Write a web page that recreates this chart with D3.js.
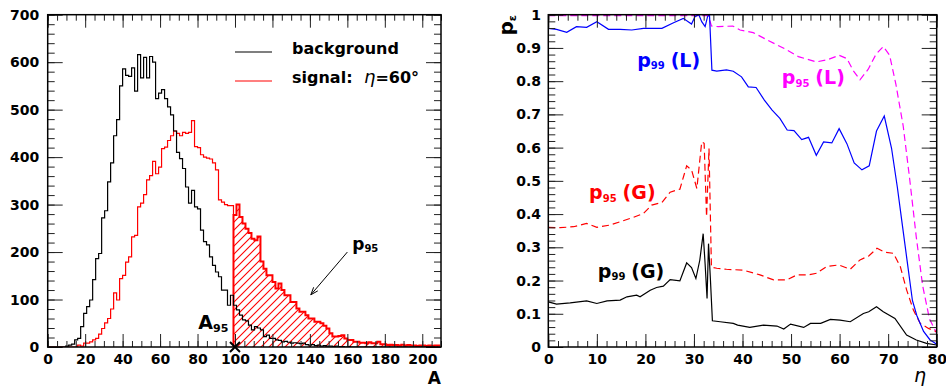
<!DOCTYPE html>
<html><head><meta charset="utf-8">
<script src="https://cdn.jsdelivr.net/npm/d3@7"></script>
<style>body{margin:0;background:#fff}svg{display:block}</style>
</head><body><svg id="c" width="946" height="388"></svg>
<script>
// ---------- DATA ----------
const binWidth = 1.6;           // A units per histogram bin
const backgroundCounts = [0,0,0,0,0,0,2,4,6,15,18,43,71,85,99,142,186,197,272,287,348,388,445,479,550,586,572,570,588,539,616,567,610,567,612,600,523,535,542,523,506,489,455,410,397,376,337,303,330,295,291,246,222,215,190,172,158,148,120,120,88,109,88,78,67,57,55,46,36,43,40,36,22,25,18,18,15,14,11,12,10,8,9,8,7,8,5,4,5,3,4,2,3,2,2,1,2,1,1,0,1,0,0,0,0,0,0,0,0,0,0,0,0,0,0,0,0,0,0,0,0,0,0,0,0,0,0,0,0,0,0];
const signalCounts = [0,0,0,0,0,0,0,0,0,0,4,2,8,8,11,15,18,27,39,51,60,80,114,99,144,151,179,190,232,235,295,303,321,352,361,391,365,379,418,421,435,445,455,450,445,452,450,452,477,422,420,405,400,398,396,388,373,310,305,300,298,298,278,300,274,260,249,240,228,225,233,180,165,151,151,137,123,134,120,109,109,95,95,81,74,74,67,60,60,53,53,50,45,39,29,22,22,23,25,18,15,15,11,11,9,9,8,10,8,8,11,6,6,4,5,4,4,3,5,3,4,3,3,2,3,3,2,3,2,3,3];
const cutBin = 62;              // first hatched bin (A95)
const a95 = 100;

const p99L_eta = [0,1.7,3.8,5.8,7.9,10,12.4,14.8,17.2,19.6,23.4,25.8,27.8,29.5,30.2,31.0,31.6,32.3,32.8,33.2,33.7,34.7,36.7,38.1,39.8,41.2,42.8,44.5,46.1,47.7,49.2,50.6,52.2,53.6,55.2,56.7,58.4,59.9,61.5,63.0,64.6,66.1,67.6,69.2,70.7,71.9,72.9,73.9,75.0,75.9,77.3,78.6,80];
const p99L_val = [0.959,0.956,0.947,0.964,0.962,0.979,0.956,0.956,0.954,0.959,0.959,0.976,0.989,0.972,0.994,1.0,0.979,0.964,0.994,1.0,0.833,0.830,0.834,0.830,0.813,0.783,0.781,0.743,0.713,0.688,0.653,0.651,0.624,0.631,0.577,0.617,0.614,0.657,0.612,0.554,0.533,0.545,0.650,0.695,0.598,0.48,0.37,0.26,0.14,0.095,0.047,0.022,0.008];

const p95L_eta = [0,33.0,33.6,35,38,39.5,42.2,45.5,48.5,51.5,55.2,57.4,59.9,61.5,62.8,64.2,65.9,67.5,69.0,70.3,71.6,73.1,74.4,75.8,77.1,78.5,80];
const p95L_val = [0.997,0.997,0.966,0.964,0.966,0.954,0.946,0.921,0.899,0.874,0.858,0.864,0.878,0.868,0.832,0.804,0.836,0.881,0.904,0.878,0.79,0.665,0.51,0.33,0.185,0.085,0.041];

const p95G_eta = [0,2.4,5.2,7.9,10.0,12.7,14.8,17.5,19.6,21.3,23.4,25.1,27.1,28.5,29.5,30.6,31.6,32.1,32.6,33.1,33.6,34.7,36.7,40.2,43.6,46.4,49.1,51.2,53.6,55.3,57.3,59.8,62.2,64.2,66.0,67.7,69.4,71.1,72.5,73.8,75.2,76.6,78.3,80];
const p95G_val = [0.360,0.359,0.362,0.372,0.360,0.367,0.377,0.390,0.402,0.427,0.435,0.466,0.475,0.545,0.533,0.477,0.617,0.613,0.392,0.597,0.240,0.237,0.234,0.231,0.217,0.202,0.202,0.217,0.217,0.222,0.242,0.247,0.234,0.262,0.274,0.297,0.285,0.282,0.242,0.172,0.111,0.071,0.056,0.046];

const p99G_eta = [0,1.7,4.5,7.9,10.0,12.1,14.8,16.2,18.2,18.9,21.0,22.3,23.7,25.1,27.1,28.5,29.5,30.4,31.2,31.9,32.3,32.7,33.0,33.4,33.8,35.4,38.1,39.0,41.5,44.3,47.1,48.5,49.9,52.6,54.0,56.1,58.1,60.1,62.2,64.9,66.0,67.6,69.0,71.4,73.8,75.8,77.9,80];
const p99G_val = [0.136,0.129,0.133,0.139,0.131,0.139,0.141,0.151,0.156,0.151,0.171,0.179,0.183,0.203,0.199,0.253,0.239,0.206,0.261,0.341,0.25,0.146,0.311,0.201,0.079,0.076,0.071,0.066,0.059,0.066,0.063,0.054,0.069,0.059,0.071,0.071,0.083,0.081,0.076,0.101,0.106,0.121,0.106,0.086,0.036,0.021,0.011,0.006];

const leftXMajor = [0,20,40,60,80,100,120,140,160,180,200];
const leftYMajor = [0,100,200,300,400,500,600,700];
const rightXMajor = [0,10,20,30,40,50,60,70,80];
const rightYMajor = [0,0.1,0.2,0.3,0.4,0.5,0.6,0.7,0.8,0.9,1];
const legendLabels = ["background", "signal:"];

// ---------- DRAW ----------
const svg = d3.select("#c");
const FONT = "DejaVu Sans, Verdana, sans-serif";
const L = {x0: 47.7, x1: 441, y0: 14.7, y1: 347};
const R = {x0: 548.3, x1: 936.7, y0: 14.7, y1: 347};

const xL = d3.scaleLinear().domain([0,210]).range([L.x0, L.x1]);
const yL = d3.scaleLinear().domain([0,700]).range([L.y1, L.y0]);
const xR = d3.scaleLinear().domain([0,80]).range([R.x0, R.x1]);
const yR = d3.scaleLinear().domain([0,1]).range([R.y1, R.y0]);

const defs = svg.append("defs");
const pat = defs.append("pattern").attr("id","hatch").attr("patternUnits","userSpaceOnUse")
  .attr("width",8).attr("height",8);
pat.append("path").attr("d","M-1,1 L1,-1 M0,8 L8,0 M7,9 L9,7").attr("fill","none").attr("stroke","#ff0000").attr("stroke-width",1.1);
defs.append("clipPath").attr("id","clipL").append("rect").attr("x",L.x0).attr("y",L.y0).attr("width",L.x1-L.x0).attr("height",L.y1-L.y0);
defs.append("clipPath").attr("id","clipR").append("rect").attr("x",R.x0).attr("y",R.y0-1).attr("width",R.x1-R.x0).attr("height",R.y1-R.y0+1);

function styleAxis(g){
  g.select(".domain").remove();
  g.selectAll(".tick line").attr("stroke","#222").attr("stroke-width",1);
  g.attr("font-family",FONT).attr("font-size",14).attr("font-weight","bold");
  g.selectAll("text").attr("fill","#000");
}
function frame(P, x, y, xMaj, xMin, yMaj, yMin, fmtX, fmtY, xMajLen, xMinLen, yMajLen, yMinLen, yPad){
  const g = svg.append("g");
  g.append("g").attr("transform",`translate(0,${P.y1})`).call(d3.axisBottom(x).tickValues(xMin).tickSize(-xMinLen).tickFormat("")).call(styleAxis);
  g.append("g").attr("transform",`translate(0,${P.y1})`).call(d3.axisBottom(x).tickValues(xMaj).tickSize(-xMajLen).tickPadding(7).tickFormat(fmtX)).call(styleAxis);
  g.append("g").attr("transform",`translate(0,${P.y0})`).call(d3.axisTop(x).tickValues(xMin).tickSize(-xMinLen).tickFormat("")).call(styleAxis);
  g.append("g").attr("transform",`translate(0,${P.y0})`).call(d3.axisTop(x).tickValues(xMaj).tickSize(-xMajLen).tickFormat("")).call(styleAxis);
  g.append("g").attr("transform",`translate(${P.x0},0)`).call(d3.axisLeft(y).tickValues(yMin).tickSize(-yMinLen).tickFormat("")).call(styleAxis);
  g.append("g").attr("transform",`translate(${P.x0},0)`).call(d3.axisLeft(y).tickValues(yMaj).tickSize(-yMajLen).tickPadding(yPad).tickFormat(fmtY)).call(styleAxis);
  g.append("g").attr("transform",`translate(${P.x1},0)`).call(d3.axisRight(y).tickValues(yMin).tickSize(-yMinLen).tickFormat("")).call(styleAxis);
  g.append("g").attr("transform",`translate(${P.x1},0)`).call(d3.axisRight(y).tickValues(yMaj).tickSize(-yMajLen).tickFormat("")).call(styleAxis);
  svg.append("rect").attr("x",P.x0).attr("y",P.y0).attr("width",P.x1-P.x0).attr("height",P.y1-P.y0)
    .attr("fill","none").attr("stroke","#000").attr("stroke-width",1.5);
}

// ----- left panel: histograms -----
const gL = svg.append("g").attr("clip-path","url(#clipL)");
function histPoints(counts, start){
  const pts = counts.slice(start).map((v,i)=>[(start+i)*binWidth, v]);
  pts.push([counts.length*binWidth, counts[counts.length-1]]);
  return pts;
}
const stepLine = d3.line().x(d=>xL(d[0])).y(d=>yL(d[1])).curve(d3.curveStepAfter);
const stepArea = d3.area().x(d=>xL(d[0])).y0(yL(0)).y1(d=>yL(d[1])).curve(d3.curveStepAfter);

const hatchPts = histPoints(signalCounts, cutBin);
gL.append("path").attr("d", stepArea(hatchPts)).attr("fill","url(#hatch)");
gL.append("path").attr("d", stepLine(histPoints(signalCounts.slice(0, cutBin+1), 0).slice(0, cutBin+1)))
  .attr("fill","none").attr("stroke","#ff0000").attr("stroke-width",1.2);
gL.append("path").attr("d", stepLine([[cutBin*binWidth,0], ...hatchPts]))
  .attr("fill","none").attr("stroke","#ff0000").attr("stroke-width",2);
gL.append("path").attr("d", stepLine(histPoints(backgroundCounts, 0)))
  .attr("fill","none").attr("stroke","#000").attr("stroke-width",1.2);

frame(L, xL, yL, leftXMajor, d3.range(0,211,5), leftYMajor, d3.range(0,701,20),
  d=>d3.format("d")(d), d=>d3.format("d")(d), 13, 6, 15, 7, 8.5);

// legend
const leg = svg.append("g").attr("font-family",FONT).attr("font-weight","bold").attr("font-size",16);
leg.append("line").attr("x1",235).attr("x2",272).attr("y1",52).attr("y2",52).attr("stroke","#000").attr("stroke-width",1.2);
leg.append("line").attr("x1",235).attr("x2",272).attr("y1",81).attr("y2",81).attr("stroke","#ff0000").attr("stroke-width",1.2);
leg.append("text").attr("x",292).attr("y",54).text(legendLabels[0]);
const t2 = leg.append("text").attr("x",292).attr("y",83);
t2.append("tspan").text(legendLabels[1]);
t2.append("tspan").attr("x",364).attr("font-style","italic").attr("font-weight","normal").attr("font-size",18).text("η");
t2.append("tspan").text("=60°");

// annotations
const ann = svg.append("g").attr("font-family",FONT).attr("font-weight","bold");
const xm = xL(a95), ym = yL(0);
ann.append("path").attr("d",`M${xm-5},${ym-5}L${xm+5},${ym+5}M${xm-5},${ym+5}L${xm+5},${ym-5}`).attr("stroke","#000").attr("stroke-width",2);
const ta = ann.append("text").attr("x",xL(80.4)).attr("y",yL(37)).attr("font-size",19);
ta.append("tspan").text("A");
ta.append("tspan").attr("font-size",11).attr("dy",3).text("95");
const tp = ann.append("text").attr("x",xL(162.6)).attr("y",yL(205)).attr("font-size",17);
tp.append("tspan").text("p");
tp.append("tspan").attr("font-size",10).attr("dy",2.5).text("95");
// arrow
const ax0 = xL(160), ay0 = yL(200), ax1 = xL(140.5), ay1 = yL(110);
const ang = Math.atan2(ay1-ay0, ax1-ax0);
const hl = 8, ha = 0.35;
ann.append("path").attr("d",`M${ax0},${ay0}L${ax1},${ay1}M${ax1-hl*Math.cos(ang-ha)},${ay1-hl*Math.sin(ang-ha)}L${ax1},${ay1}L${ax1-hl*Math.cos(ang+ha)},${ay1-hl*Math.sin(ang+ha)}`)
  .attr("fill","none").attr("stroke","#000").attr("stroke-width",1);
ann.append("text").attr("x",L.x1).attr("y",384).attr("text-anchor","end").attr("font-size",17).text("A");

// ----- right panel -----
const gR = svg.append("g").attr("clip-path","url(#clipR)");
const curve = (etas, vals) => d3.line().x((d,i)=>xR(etas[i])).y(d=>yR(d))(vals);
gR.append("path").attr("d",curve(p95L_eta,p95L_val)).attr("fill","none").attr("stroke","#ff00ff").attr("stroke-width",1.2).attr("stroke-dasharray","7,4");
gR.append("path").attr("d",curve(p95G_eta,p95G_val)).attr("fill","none").attr("stroke","#ff0000").attr("stroke-width",1.2).attr("stroke-dasharray","7,4");
gR.append("path").attr("d",curve(p99G_eta,p99G_val)).attr("fill","none").attr("stroke","#000").attr("stroke-width",1.2);
gR.append("path").attr("d",curve(p99L_eta,p99L_val)).attr("fill","none").attr("stroke","#0000ff").attr("stroke-width",1.2);

frame(R, xR, yR, rightXMajor, d3.range(0,81,2), rightYMajor, d3.range(0,51).map(i=>i/50),
  d=>d3.format("d")(d), d=>(d===0?"0":d===1?"1":d.toFixed(1)), 13, 6, 15, 7, 7.3);

const lab = svg.append("g").attr("font-family",FONT).attr("font-weight","bold");
function pLabel(eta, p, sub, rest, color){
  const t = lab.append("text").attr("x",xR(eta)).attr("y",yR(p)).attr("font-size",19).attr("fill",color);
  t.append("tspan").text("p");
  t.append("tspan").attr("font-size",10).attr("dy",2.5).text(sub);
  t.append("tspan").attr("dy",-2.5).attr("dx",6).text(rest);
}
pLabel(18.3, 0.843, "99", "(L)", "#0000ff");
pLabel(48.1, 0.791, "95", "(L)", "#ff00ff");
pLabel(8.4, 0.445, "95", "(G)", "#ff0000");
pLabel(10.2, 0.208, "99", "(G)", "#000");

// axis titles
lab.append("text").attr("x",926).attr("y",382).attr("text-anchor","end").attr("font-size",19)
  .attr("font-style","italic").attr("font-weight","normal").text("η");
const yt = lab.append("text").attr("transform",`translate(513,15) rotate(-90)`).attr("text-anchor","end").attr("font-size",20);
yt.append("tspan").text("p");
yt.append("tspan").attr("font-size",11).attr("dy",3).text("ε");
</script></body></html>
